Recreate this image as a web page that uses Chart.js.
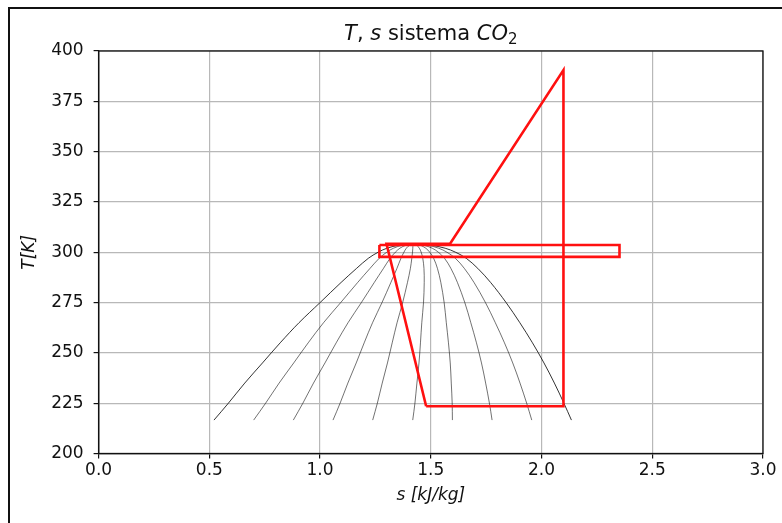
<!DOCTYPE html>
<html>
<head>
<meta charset="utf-8">
<script src="https://cdn.jsdelivr.net/npm/chart.js@4.4.1/dist/chart.umd.min.js"></script>
<style>
  html, body { margin: 0; padding: 0; background: #fff; }
  #wrap { position: relative; width: 782px; height: 523px; overflow: hidden; }
  #frame { position: absolute; left: 8px; top: 7px; width: 800px; height: 600px;
           border-left: 2px solid #111; border-top: 2px solid #111; }
  #ts { position: absolute; left: 0; top: 0; }
</style>
</head>
<body>
<div id="wrap">
  <div id="frame"></div>
  <canvas id="ts" width="782" height="523"></canvas>
</div>
<script>
// CO2 saturation dome: temperature [K] and liquid / vapour entropy [kJ/kgK]
const satT  = [216.6, 225, 235, 245, 255, 265, 275, 285, 292, 297, 300, 302, 303.5, 304.1];
const satSl = [0.521, 0.586, 0.660, 0.740, 0.820, 0.905, 1.000, 1.095, 1.165, 1.218, 1.262, 1.302, 1.357, 1.430];
const satSv = [2.135, 2.101, 2.058, 2.011, 1.959, 1.902, 1.840, 1.770, 1.712, 1.660, 1.612, 1.565, 1.500, 1.430];

// vapour qualities of the lines inside the dome
const qualities = [0.111, 0.222, 0.333, 0.444, 0.556, 0.667, 0.778, 0.889];

// refrigeration cycle
const cycleS = [1.479, 2.099, 2.099, 1.587, 1.300, 1.479];
const cycleT = [223.5, 223.5, 390.5, 304.2, 304.2, 223.5];

// gas cooler band
const coolerS = [1.268, 2.352, 2.352, 1.268, 1.268];
const coolerT = [303.6, 303.6, 297.7, 297.7, 303.6];

const xTicks = [0.0, 0.5, 1.0, 1.5, 2.0, 2.5, 3.0];
const yTicks = [200, 225, 250, 275, 300, 325, 350, 375, 400];

const FONT = '"DejaVu Sans", sans-serif';

const toPoints = (xs, ys) => xs.map((x, i) => ({ x: x, y: ys[i] }));

// dome outline: liquid side going up, vapour side coming down
const domePoints = toPoints(satSl, satT).concat(toPoints(satSv, satT).reverse().slice(1));

const qualityLines = qualities.map(q => ({
    data: satT.map((t, i) => ({ x: satSl[i] + q * (satSv[i] - satSl[i]), y: t })),
    borderColor: 'rgba(0,0,0,0.7)',
    borderWidth: 0.8,
    tension: 0.35,
    order: 3
}));

// title, axis titles and the closed axes box
const decorations = {
    id: 'decorations',
    afterDraw(chart) {
        const { ctx, chartArea: a } = chart;
        ctx.save();
        ctx.strokeStyle = '#111';
        ctx.lineWidth = 1.3;
        ctx.strokeRect(a.left, a.top, a.right - a.left, a.bottom - a.top);

        ctx.fillStyle = '#111';
        ctx.textBaseline = 'alphabetic';
        const parts = [
            { t: 'T', f: 'italic 21px ' + FONT, dy: 0 },
            { t: ', ', f: '21px ' + FONT, dy: 0 },
            { t: 's', f: 'italic 21px ' + FONT, dy: 0 },
            { t: ' sistema ', f: '21px ' + FONT, dy: 0 },
            { t: 'CO', f: 'italic 21px ' + FONT, dy: 0 },
            { t: '2', f: '15px ' + FONT, dy: 4 }
        ];
        let total = 0;
        parts.forEach(p => { ctx.font = p.f; p.w = ctx.measureText(p.t).width; total += p.w; });
        let x = (a.left + a.right) / 2 - total / 2;
        parts.forEach(p => {
            ctx.font = p.f;
            ctx.textAlign = 'left';
            ctx.fillText(p.t, x, 40 + p.dy);
            x += p.w;
        });

        ctx.font = 'italic 17px ' + FONT;
        ctx.textAlign = 'center';
        ctx.textBaseline = 'middle';
        ctx.fillText('s [kJ/kg]', (a.left + a.right) / 2, 496);

        ctx.translate(30, (a.top + a.bottom) / 2);
        ctx.rotate(-Math.PI / 2);
        ctx.fillText('T[K]', 0, 0);
        ctx.restore();
    }
};

new Chart(document.getElementById('ts'), {
    type: 'scatter',
    data: {
        datasets: [
            {
                data: toPoints(cycleS, cycleT),
                borderColor: '#ff1010',
                borderWidth: 2.6,
                tension: 0,
                order: 1
            },
            {
                data: toPoints(coolerS, coolerT),
                borderColor: '#ff1010',
                borderWidth: 2.6,
                tension: 0,
                order: 1
            },
            {
                data: domePoints,
                borderColor: 'rgba(0,0,0,0.8)',
                borderWidth: 1,
                tension: 0.35,
                order: 2
            },
            ...qualityLines
        ]
    },
    plugins: [decorations],
    options: {
        responsive: false,
        animation: false,
        devicePixelRatio: 1,
        showLine: true,
        elements: { point: { radius: 0, hoverRadius: 0 } },
        layout: { padding: { left: 0, right: 19, top: 51, bottom: 0 } },
        plugins: {
            legend: { display: false },
            tooltip: { enabled: false },
            title: { display: false }
        },
        scales: {
            x: {
                type: 'linear',
                min: 0,
                max: 3,
                afterBuildTicks: axis => { axis.ticks = xTicks.map(v => ({ value: v })); },
                afterFit: axis => { axis.height = 69.5; },
                grid: { color: '#b8b8b8', lineWidth: 1.2, tickColor: '#111', tickLength: 5 },
                border: { color: '#111', width: 1.3 },
                ticks: {
                    color: '#111',
                    padding: 2,
                    maxRotation: 0,
                    font: { family: FONT, size: 17 },
                    callback: v => v.toFixed(1)
                }
            },
            y: {
                type: 'linear',
                min: 200,
                max: 400,
                afterBuildTicks: axis => { axis.ticks = yTicks.map(v => ({ value: v })); },
                afterFit: axis => { axis.width = 98.6; },
                grid: { color: '#b8b8b8', lineWidth: 1.2, tickColor: '#111', tickLength: 5 },
                border: { color: '#111', width: 1.3 },
                ticks: {
                    color: '#111',
                    padding: 10,
                    font: { family: FONT, size: 17 },
                    callback: v => String(v)
                }
            }
        }
    }
});
</script>
</body>
</html>
